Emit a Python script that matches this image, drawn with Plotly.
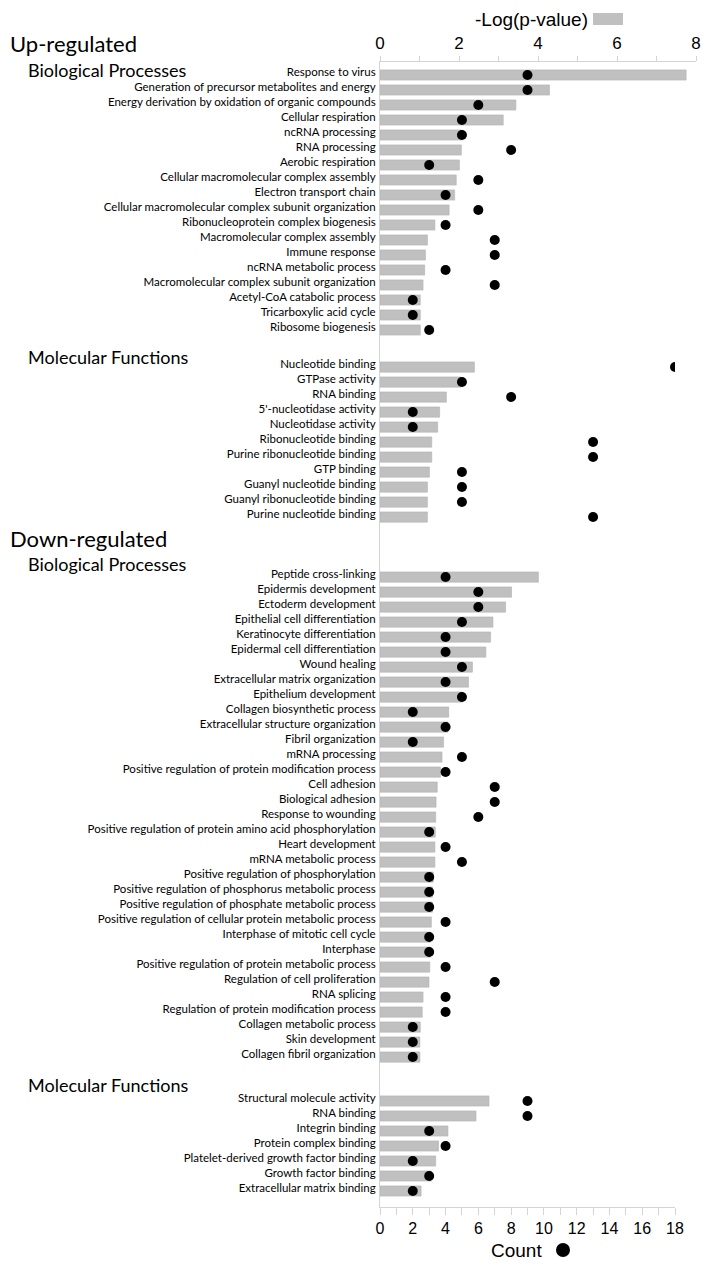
"""GO enrichment of up- and down-regulated genes: -log(p) bars with gene-count dots."""
import plotly.graph_objects as go

# Up-regulated, Biological Processes
up_bp_terms = [
    "Response to virus", "Generation of precursor metabolites and energy",
    "Energy derivation by oxidation of organic compounds", "Cellular respiration",
    "ncRNA processing", "RNA processing", "Aerobic respiration",
    "Cellular macromolecular complex assembly", "Electron transport chain",
    "Cellular macromolecular complex subunit organization",
    "Ribonucleoprotein complex biogenesis", "Macromolecular complex assembly",
    "Immune response", "ncRNA metabolic process",
    "Macromolecular complex subunit organization", "Acetyl-CoA catabolic process",
    "Tricarboxylic acid cycle", "Ribosome biogenesis",
]
up_bp_logp = [7.75, 4.29, 3.44, 3.12, 2.08, 2.06, 2.01, 1.93, 1.89, 1.75,
              1.39, 1.20, 1.15, 1.13, 1.09, 1.02, 1.02, 1.02]
up_bp_count = [9, 9, 6, 5, 5, 8, 3, 6, 4, 6, 4, 7, 7, 4, 7, 2, 2, 3]

# Up-regulated, Molecular Functions
up_mf_terms = [
    "Nucleotide binding", "GTPase activity", "RNA binding",
    "5'-nucleotidase activity", "Nucleotidase activity", "Ribonucleotide binding",
    "Purine ribonucleotide binding", "GTP binding", "Guanyl nucleotide binding",
    "Guanyl ribonucleotide binding", "Purine nucleotide binding",
]
up_mf_logp = [2.39, 2.04, 1.68, 1.51, 1.46, 1.31, 1.31, 1.25, 1.20, 1.20, 1.20]
up_mf_count = [18, 5, 8, 2, 2, 13, 13, 5, 5, 5, 13]

# Down-regulated, Biological Processes
down_bp_terms = [
    "Peptide cross-linking", "Epidermis development", "Ectoderm development",
    "Epithelial cell differentiation", "Keratinocyte differentiation",
    "Epidermal cell differentiation", "Wound healing",
    "Extracellular matrix organization", "Epithelium development",
    "Collagen biosynthetic process", "Extracellular structure organization",
    "Fibril organization", "mRNA processing",
    "Positive regulation of protein modification process", "Cell adhesion",
    "Biological adhesion", "Response to wounding",
    "Positive regulation of protein amino acid phosphorylation",
    "Heart development", "mRNA metabolic process",
    "Positive regulation of phosphorylation",
    "Positive regulation of phosphorus metabolic process",
    "Positive regulation of phosphate metabolic process",
    "Positive regulation of cellular protein metabolic process",
    "Interphase of mitotic cell cycle", "Interphase",
    "Positive regulation of protein metabolic process",
    "Regulation of cell proliferation", "RNA splicing",
    "Regulation of protein modification process", "Collagen metabolic process",
    "Skin development", "Collagen fibril organization",
]
down_bp_logp = [4.01, 3.33, 3.18, 2.86, 2.80, 2.68, 2.34, 2.24, 2.08, 1.74,
                1.72, 1.61, 1.57, 1.53, 1.45, 1.42, 1.41, 1.40, 1.39, 1.39,
                1.35, 1.33, 1.33, 1.30, 1.28, 1.28, 1.26, 1.24, 1.09, 1.07,
                1.02, 1.01, 1.01]
down_bp_count = [4, 6, 6, 5, 4, 4, 5, 4, 5, 2, 4, 2, 5, 4, 7, 7, 6, 3, 4, 5,
                 3, 3, 3, 4, 3, 3, 4, 7, 4, 4, 2, 2, 2]

# Down-regulated, Molecular Functions
down_mf_terms = [
    "Structural molecule activity", "RNA binding", "Integrin binding",
    "Protein complex binding", "Platelet-derived growth factor binding",
    "Growth factor binding", "Extracellular matrix binding",
]
down_mf_logp = [2.76, 2.43, 1.72, 1.48, 1.41, 1.30, 1.04]
down_mf_count = [9, 9, 3, 4, 2, 3, 2]

# layout, in pixels of the 714x1270 page (the html body adds an 8px margin)
PAGE_W, PAGE_H = 714, 1270
OFF = 8
W, H = PAGE_W - 2 * OFF, PAGE_H - 2 * OFF
ROW = 15.0                      # px per row
FIRST_ROW_PX = 75               # centre of first bar
AXIS_TOP_PX, AXIS_BOT_PX = 62, 1207
PLOT_LEFT_PX, PLOT_RIGHT_PX, COUNT_RIGHT_PX = 380, 696, 675
GROUP_START = [0.0, 19.47, 33.47, 68.4]   # first row of each block, in rows
LABEL_SHIFT = 0.18
BAR_COLOR = "#c0c0c0"
AXIS_COLOR = "#d4d4d4"
LABEL_FONT = "Lato, Calibri, sans-serif"
NUM_FONT = "Liberation Sans, Arial, sans-serif"

blocks = [
    (up_bp_terms, up_bp_logp, up_bp_count),
    (up_mf_terms, up_mf_logp, up_mf_count),
    (down_bp_terms, down_bp_logp, down_bp_count),
    (down_mf_terms, down_mf_logp, down_mf_count),
]

pos, terms, logp, count = [], [], [], []
for start, (t, lp, c) in zip(GROUP_START, blocks):
    pos += [start + i for i in range(len(t))]
    terms += t
    logp += lp
    count += c


def py(px):
    """page pixel row -> paper y"""
    return 1 - (px - OFF) / H


def px_x(px):
    """page pixel column -> paper x"""
    return (px - OFF) / W


fig = go.Figure()

fig.add_trace(go.Bar(
    x=logp, y=pos, orientation="h", width=0.68,
    marker=dict(color=BAR_COLOR, line=dict(color="#b2b2b2", width=0.6)),
    xaxis="x", yaxis="y", hoverinfo="x+text", text=terms, textposition="none",
))
fig.add_trace(go.Scatter(
    x=count, y=pos, mode="markers",
    marker=dict(color="black", size=10),
    xaxis="x2", yaxis="y", hoverinfo="x+text", text=terms,
))

y_lo = (AXIS_TOP_PX - FIRST_ROW_PX) / ROW
y_hi = (AXIS_BOT_PX - FIRST_ROW_PX) / ROW

fig.update_layout(
    width=W, height=H,
    margin=dict(l=0, r=0, t=0, b=0),
    paper_bgcolor="white",
    plot_bgcolor="rgba(0,0,0,0)",
    showlegend=False,
    xaxis=dict(
        domain=[px_x(PLOT_LEFT_PX), px_x(PLOT_RIGHT_PX)],
        range=[0, 8], side="top", anchor="y", automargin=False,
        showline=True, linecolor=AXIS_COLOR, linewidth=1,
        showgrid=False, zeroline=False,
        tick0=0, dtick=2, ticks="outside", ticklen=5, tickcolor=AXIS_COLOR,
        tickfont=dict(family=NUM_FONT, size=17, color="black"),
        minor=dict(dtick=1, ticks="outside", ticklen=5, tickcolor=AXIS_COLOR, showgrid=False),
    ),
    xaxis2=dict(
        domain=[px_x(PLOT_LEFT_PX), px_x(COUNT_RIGHT_PX)],
        range=[0, 18], side="bottom", anchor="y", automargin=False,
        showline=True, linecolor=AXIS_COLOR, linewidth=1,
        showgrid=False, zeroline=False,
        tick0=0, dtick=2, ticks="outside", ticklen=7, tickcolor=AXIS_COLOR,
        tickfont=dict(family=NUM_FONT, size=16, color="black"),
        minor=dict(dtick=1, ticks="outside", ticklen=7, tickcolor=AXIS_COLOR, showgrid=False),
    ),
    yaxis=dict(
        domain=[py(AXIS_BOT_PX), py(AXIS_TOP_PX)],
        range=[y_hi, y_lo], anchor="x", automargin=False,
        showline=True, linecolor=AXIS_COLOR, linewidth=1,
        showgrid=False, zeroline=False, ticks="",
        tickvals=[p - LABEL_SHIFT for p in pos], ticktext=terms,
        tickfont=dict(family=LABEL_FONT, size=11.5, color="black"),
        ticklabelstandoff=1,
    ),
)

# section headings
headings = [
    ("Up-regulated", 8, 43, 22),
    ("Biological Processes", 26, 70, 18),
    ("Molecular Functions", 26, 357, 18),
    ("Down-regulated", 8, 538, 22),
    ("Biological Processes", 26, 564, 18),
    ("Molecular Functions", 26, 1085, 18),
]
for text, x0, y0, size in headings:
    fig.add_annotation(
        text=text, xref="paper", yref="paper", x=px_x(x0), y=py(y0),
        xanchor="left", yanchor="middle", showarrow=False,
        font=dict(family=LABEL_FONT, size=size, color="black"),
    )

# legend keys
fig.add_annotation(
    text="-Log(p-value)", xref="paper", yref="paper", x=px_x(590), y=py(19),
    xanchor="right", yanchor="middle", showarrow=False,
    font=dict(family=NUM_FONT, size=19, color="black"),
)
fig.add_shape(type="rect", xref="paper", yref="paper",
              x0=px_x(593), x1=px_x(623), y0=py(25), y1=py(13),
              fillcolor=BAR_COLOR, line=dict(width=0))
fig.add_annotation(
    text="Count", xref="paper", yref="paper", x=px_x(544), y=py(1250),
    xanchor="right", yanchor="middle", showarrow=False,
    font=dict(family=NUM_FONT, size=19, color="black"),
)
fig.add_shape(type="circle", xref="paper", yref="paper",
              x0=px_x(556), x1=px_x(570), y0=py(1257), y1=py(1243),
              fillcolor="black", line=dict(width=0))

fig.write_html("out.html")
